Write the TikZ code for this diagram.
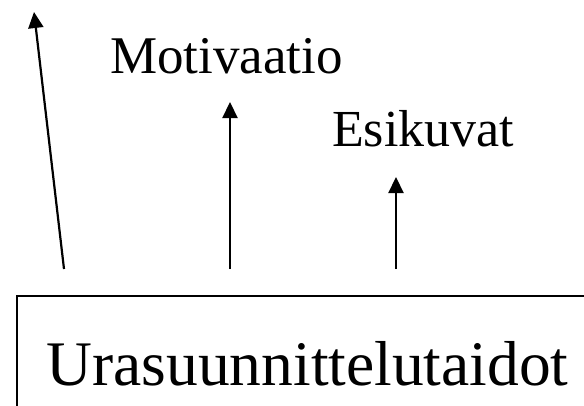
\documentclass[tikz,border=0pt]{standalone}
\usepackage{fontspec}
\setmainfont{Liberation Serif}
\usetikzlibrary{arrows.meta}
\begin{document}
\begin{tikzpicture}[x=1pt,y=-1pt,
  arr/.style={line width=2.2pt,-{Triangle[length=16pt,width=15pt]}},
  lbl/.style={anchor=base,inner sep=0pt}]
\useasboundingbox (0,0) rectangle (584,405);
\clip (0,0) rectangle (584,405);
\fill[white] (0,0) rectangle (584,405);
\node[draw,line width=2pt,minimum width=600pt,minimum height=130pt,anchor=north west,inner sep=0pt] (box) at (16,295) {};
\node[lbl,font=\fontsize{63.5}{68}\selectfont] (ura) at (307.5,385) {Urasuunnittelutaidot};
\node[lbl,font=\fontsize{53}{58}\selectfont] (mot) at (226.5,73) {Motivaatio};
\node[lbl,font=\fontsize{52}{57}\selectfont] (esi) at (423,146) {Esikuvat};
\coordinate (s1) at (64,269);
\coordinate (t1) at (34,12);
\coordinate (s2) at (230,269);
\coordinate (t2) at (230,102);
\coordinate (s3) at (396,269);
\coordinate (t3) at (396,177);
\draw[arr] (s1) -- (t1);
\draw[arr] (s2) -- (t2);
\draw[arr] (s3) -- (t3);
\end{tikzpicture}
\end{document}
